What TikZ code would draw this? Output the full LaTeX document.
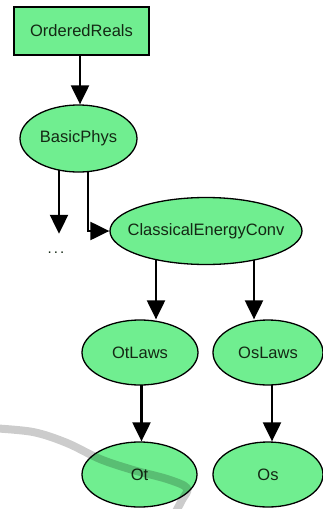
\documentclass[tikz,border=0pt]{standalone}
\usepackage{fontspec}
\setmainfont{Liberation Sans}
\usetikzlibrary{shapes.geometric,arrows.meta,calc}
\definecolor{nodefill}{RGB}{112,238,144}
\definecolor{nodetext}{RGB}{20,40,20}
\pgfdeclarelayer{bg}
\pgfsetlayers{bg,main}
\begin{document}
\begin{tikzpicture}[x=1pt,y=-1pt,
  base/.style={draw=black, line width=1.3pt, fill=nodefill, text=nodetext,
    font=\fontsize{16.5}{18}\selectfont, inner sep=0pt},
  rectnode/.style={base, rectangle},
  ellnode/.style={base, ellipse},
  arr/.style={line width=2.2pt, -{Triangle[length=19pt,width=18pt]}},
  swirl/.style={line width=8pt, draw=black, draw opacity=0.2, line cap=round, line join=round}]
\useasboundingbox (0,0) rectangle (322,509);
\node[rectnode, minimum width=135pt, minimum height=48pt] (OR) at (81.5,31) {OrderedReals};
\node[ellnode, minimum width=117pt, minimum height=67pt] (BP) at (78.5,138.5) {\makebox[0pt]{BasicPhys}};
\node[ellnode, minimum width=192pt, minimum height=67pt] (CEC) at (206,231) {\makebox[0pt]{ClassicalEnergyConv}};
\node[ellnode, minimum width=116pt, minimum height=65pt] (OtL) at (140,352.5) {\makebox[0pt]{OtLaws}};
\node[ellnode, minimum width=110pt, minimum height=65pt] (OsL) at (268,352.5) {\makebox[0pt]{OsLaws}};
\node[ellnode, minimum width=115pt, minimum height=65pt] (Ot) at (139.5,474.5) {\makebox[0pt]{Ot}};
\node[ellnode, minimum width=110pt, minimum height=65pt] (Os) at (268,474.5) {\makebox[0pt]{Os}};
\node[inner sep=0pt, minimum height=38pt, font=\fontsize{15}{16}\selectfont, text=nodetext] (dots) at (56,253) {\makebox[0pt]{.\kern2pt.\kern2pt.}};
\coordinate (c1) at ($(OR.south)+(-1.5,0)$);
\coordinate (c2) at ($(BP.center)+(-19.5,0)$);
\coordinate (c3) at ($(BP.center)+(9.5,0)$);
\coordinate (c4) at ($(OtL.north)+(16,0)$);
\coordinate (c5) at ($(OsL.north)+(-14,0)$);
\coordinate (c6) at ($(Ot.north)+(2,0)$);
\coordinate (c7) at ($(Os.north)+(4,0)$);
\begin{pgfonlayer}{bg}
\draw[arr] (c1) -- (c1 |- BP.north);
\draw[arr] (c2) -- (c2 |- dots.north);
\draw[arr] (c3) |- (CEC.west);
\draw[arr] (c4 |- CEC.center) -- (c4);
\draw[arr] (c5 |- CEC.center) -- (c5);
\draw[arr] (c6 |- OtL.center) -- (c6);
\draw[arr] (c7 |- OsL.center) -- (c7);
\end{pgfonlayer}
\draw[swirl] plot[smooth, tension=0.55] coordinates {(-10,428) (33,432) (67,443) (100,459) (133,470) (167,479) (187,488) (182,500) (174,515)};
\end{tikzpicture}
\end{document}
